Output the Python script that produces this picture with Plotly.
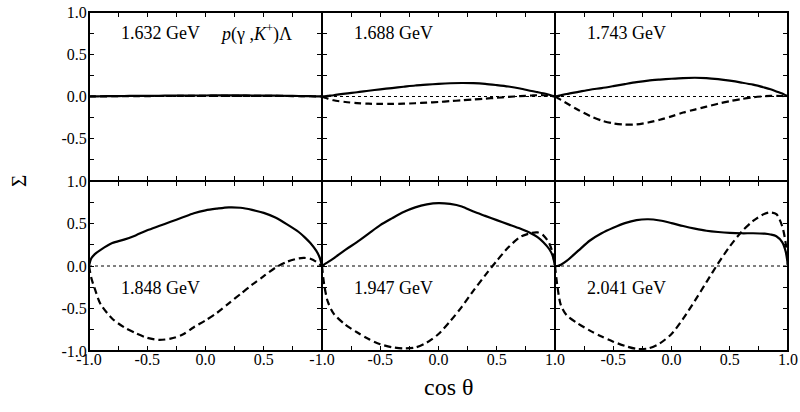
import numpy as np
import plotly.graph_objects as go

# common cos(theta) grid
cos_theta = [-1.0, -0.98, -0.95, -0.9, -0.8, -0.7, -0.6, -0.5, -0.4, -0.3, -0.2, -0.1, 0.0,
             0.1, 0.2, 0.3, 0.4, 0.5, 0.6, 0.7, 0.8, 0.85, 0.9, 0.95, 0.98, 1.0]

energies = ["1.632 GeV", "1.688 GeV", "1.743 GeV", "1.848 GeV", "1.947 GeV", "2.041 GeV"]

solid_1632 = [0, 0.001, 0.002, 0.003, 0.005, 0.006, 0.007, 0.008, 0.009, 0.010, 0.011, 0.012, 0.012,
              0.013, 0.013, 0.013, 0.012, 0.011, 0.010, 0.008, 0.006, 0.005, 0.004, 0.002, 0.001, 0]
dashed_1632 = [0, 0.001, 0.001, 0.002, 0.003, 0.004, 0.004, 0.005, 0.006, 0.006, 0.007, 0.007, 0.008,
               0.008, 0.008, 0.008, 0.008, 0.007, 0.007, 0.006, 0.005, 0.004, 0.003, 0.002, 0.001, 0]

solid_1688 = [0, 0.003, 0.008, 0.015, 0.035, 0.05, 0.068, 0.085, 0.10, 0.115, 0.13, 0.14, 0.15,
              0.157, 0.16, 0.158, 0.15, 0.135, 0.118, 0.095, 0.065, 0.052, 0.038, 0.02, 0.008, 0]
dashed_1688 = [0, -0.01, -0.025, -0.045, -0.065, -0.078, -0.085, -0.088, -0.088, -0.085, -0.08, -0.072, -0.065,
               -0.055, -0.045, -0.035, -0.025, -0.015, -0.005, 0.005, 0.012, 0.015, 0.015, 0.01, 0.004, 0]

solid_1743 = [0, 0.006, 0.015, 0.03, 0.055, 0.08, 0.10, 0.123, 0.147, 0.17, 0.188, 0.20, 0.21,
              0.218, 0.222, 0.218, 0.205, 0.187, 0.165, 0.14, 0.105, 0.085, 0.06, 0.035, 0.014, 0]
dashed_1743 = [0, -0.015, -0.04, -0.08, -0.16, -0.23, -0.285, -0.318, -0.333, -0.33, -0.308, -0.275, -0.235,
               -0.19, -0.155, -0.12, -0.085, -0.055, -0.03, -0.01, 0.003, 0.007, 0.008, 0.006, 0.003, 0]

solid_1848 = [0, 0.09, 0.14, 0.19, 0.27, 0.31, 0.36, 0.42, 0.47, 0.52, 0.57, 0.62, 0.655,
              0.675, 0.69, 0.685, 0.66, 0.625, 0.57, 0.49, 0.40, 0.34, 0.27, 0.18, 0.10, 0]
dashed_1848 = [0, -0.14, -0.27, -0.45, -0.62, -0.72, -0.79, -0.845, -0.87, -0.855, -0.81, -0.72, -0.64,
               -0.55, -0.44, -0.33, -0.22, -0.12, -0.02, 0.05, 0.09, 0.095, 0.085, 0.05, 0.02, 0]

solid_1947 = [0, 0.02, 0.045, 0.09, 0.19, 0.28, 0.38, 0.48, 0.56, 0.635, 0.69, 0.725, 0.74,
              0.73, 0.70, 0.64, 0.59, 0.54, 0.49, 0.44, 0.38, 0.34, 0.28, 0.20, 0.12, 0]
dashed_1947 = [0, -0.23, -0.42, -0.56, -0.69, -0.78, -0.86, -0.92, -0.955, -0.97, -0.96, -0.90, -0.80,
               -0.65, -0.48, -0.29, -0.11, 0.06, 0.22, 0.34, 0.39, 0.395, 0.36, 0.27, 0.15, 0]

solid_2041 = [0, 0.0, 0.015, 0.06, 0.18, 0.30, 0.385, 0.45, 0.505, 0.54, 0.55, 0.535, 0.505,
              0.47, 0.44, 0.415, 0.40, 0.39, 0.385, 0.385, 0.38, 0.37, 0.35, 0.28, 0.17, 0]
dashed_2041 = [0, -0.23, -0.46, -0.58, -0.68, -0.76, -0.83, -0.89, -0.94, -0.975, -0.97, -0.91, -0.80,
               -0.62, -0.41, -0.19, 0.03, 0.23, 0.40, 0.53, 0.615, 0.63, 0.61, 0.47, 0.27, 0]

solid_curves = [solid_1632, solid_1688, solid_1743, solid_1848, solid_1947, solid_2041]
dashed_curves = [dashed_1632, dashed_1688, dashed_1743, dashed_1848, dashed_1947, dashed_2041]

tick_positions = list(np.linspace(-1, 1, 9))
x_ticktext_col1 = ["-1.0", "", "-0.5", "", "0.0", "", "0.5", "", ""]
x_ticktext_col2 = ["-1.0", "", "-0.5", "", "0.0", "", "0.5", "", ""]
x_ticktext_col3 = ["1.0", "", "-0.5", "", "0.0", "", "0.5", "", "1.0"]
y_ticktext_top = ["", "", "-0.5", "", "0.0", "", "0.5", "", "1.0"]
y_ticktext_bottom = ["-1.0", "", "-0.5", "", "0.0", "", "0.5", "", "1.0"]
x_ticktexts = [x_ticktext_col1, x_ticktext_col2, x_ticktext_col3]

reaction_label = "<i>p</i>(γ ,<i>K</i><sup>+</sup>)Λ"

W, H = 800, 412
col_px = [(89, 322), (322, 555), (555, 788)]
row_px = [(12, 181), (181, 351)]
FONT = "Liberation Serif, Times New Roman, serif"


def px_x(p):
    return p / W


def px_y(p):
    return 1 - p / H


fig = go.Figure()
layout = dict(width=W, height=H, margin=dict(l=0, r=0, t=0, b=0, autoexpand=False),
              paper_bgcolor="white", plot_bgcolor="white", showlegend=False,
              font=dict(family=FONT, color="black", size=16))
annotations = []

for i in range(6):
    r, c = divmod(i, 3)
    k = "" if i == 0 else str(i + 1)
    xa, ya = "x" + k, "y" + k
    x0, x1 = col_px[c]
    y0, y1 = row_px[r]
    layout["xaxis" + k] = dict(
        domain=[px_x(x0), px_x(x1)], anchor=ya, range=[-1, 1], automargin=False,
        showline=True, linecolor="black", linewidth=1, mirror="allticks",
        ticks="inside", ticklen=5, tickwidth=1.3, tickcolor="black",
        tickmode="array", tickvals=tick_positions, ticktext=x_ticktexts[c],
        showticklabels=(r == 1), showgrid=False, zeroline=False, ticklabelstandoff=-6,
        ticklabeloverflow="allow",
        tickfont=dict(family=FONT, size=16, color="black"))
    layout["yaxis" + k] = dict(
        domain=[px_y(y1), px_y(y0)], anchor=xa, range=[-1, 1], automargin=False,
        showline=True, linecolor="black", linewidth=1, mirror="allticks",
        ticks="inside", ticklen=5, tickwidth=1.3, tickcolor="black",
        tickmode="array", tickvals=tick_positions,
        ticktext=y_ticktext_top if r == 0 else y_ticktext_bottom,
        showticklabels=(c == 0), showgrid=False, zeroline=False, ticklabelstandoff=-2,
        ticklabeloverflow="allow",
        tickfont=dict(family=FONT, size=16, color="black"))
    # dotted zero line
    fig.add_trace(go.Scatter(x=[-1, 1], y=[0, 0], mode="lines", xaxis=xa, yaxis=ya,
                             line=dict(color="black", width=1, dash="dot"), hoverinfo="skip"))
    fig.add_trace(go.Scatter(x=cos_theta, y=dashed_curves[i], mode="lines", xaxis=xa, yaxis=ya,
                             line=dict(color="black", width=2.2, dash="7px,4px",
                                       shape="spline", smoothing=0.8)))
    fig.add_trace(go.Scatter(x=cos_theta, y=solid_curves[i], mode="lines", xaxis=xa, yaxis=ya,
                             line=dict(color="black", width=2.2, shape="spline", smoothing=0.8)))
    label_y = 0.75 if r == 0 else -0.26
    annotations.append(dict(x=-0.39, y=label_y, xref=xa, yref=ya, text=energies[i],
                            xanchor="center", yanchor="middle",
                            showarrow=False, font=dict(family=FONT, size=18, color="black")))
    if i == 0:
        annotations.append(dict(x=0.43, y=label_y, xref=xa, yref=ya, text=reaction_label,
                                xanchor="center", yanchor="middle",
                                showarrow=False, font=dict(family=FONT, size=18, color="black")))

# panel frame: outer box and dividers, 2 px like the reference
frame = dict(type="line", xref="paper", yref="paper", line=dict(color="black", width=2), layer="above")
shapes = [dict(type="rect", xref="paper", yref="paper", x0=px_x(col_px[0][0]), x1=px_x(col_px[2][1]),
               y0=px_y(row_px[1][1]), y1=px_y(row_px[0][0]), line=dict(color="black", width=2),
               layer="above")]
for c in (1, 2):
    shapes.append(dict(frame, x0=px_x(col_px[c][0]), x1=px_x(col_px[c][0]),
                       y0=px_y(row_px[1][1]), y1=px_y(row_px[0][0])))
shapes.append(dict(frame, x0=px_x(col_px[0][0]), x1=px_x(col_px[2][1]),
                   y0=px_y(row_px[1][0]), y1=px_y(row_px[1][0])))

annotations.append(dict(x=px_x(19), y=px_y(181), xref="paper", yref="paper", text="Σ",
                        textangle=-90, showarrow=False, xanchor="center", yanchor="middle",
                        font=dict(family=FONT, size=21, color="black")))
annotations.append(dict(x=px_x(449), y=px_y(387), xref="paper", yref="paper", text="cos θ",
                        showarrow=False, xanchor="center", yanchor="middle",
                        font=dict(family=FONT, size=24, color="black")))
layout["annotations"] = annotations
layout["shapes"] = shapes
fig.update_layout(**layout)
fig.write_html("out.html", config={"displayModeBar": False},
               post_script="document.body.style.margin='0';document.body.style.padding='0';")
